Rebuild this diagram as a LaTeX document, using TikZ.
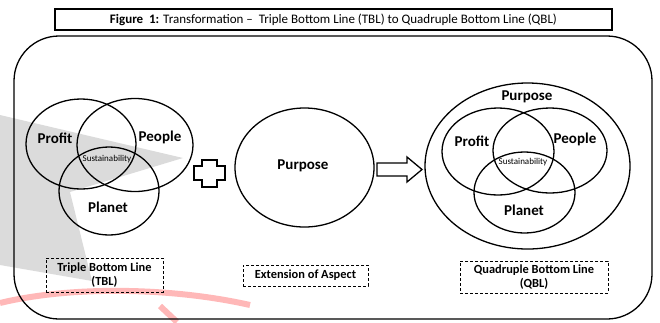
\documentclass[tikz,border=0pt]{standalone}
\usepackage{fontspec}
\setmainfont{Carlito}
\usetikzlibrary{shapes.geometric}

\tikzset{
  ring/.style={draw, ellipse, line width=1.3pt, inner sep=0pt},
  lbl/.style={font=\fontsize{15}{17}\selectfont\bfseries},
  core/.style={font=\fontsize{9}{10}\selectfont},
  tag/.style={draw, line width=0.9pt, dash pattern=on 3pt off 2pt, inner sep=0pt,
    align=center, font=\fontsize{12.4}{14}\selectfont\bfseries},
  mark line/.style={red!28, line width=6pt}
}

\begin{document}
\begin{tikzpicture}[x=1pt,y=-1pt]
\useasboundingbox (0,0) rectangle (660,322);
% ---- faint background marks ----
\fill[gray!28] (0,115) -- (183,158) -- (70,192) -- (92,281) -- (0,265) -- cycle;
\draw[mark line] (0,303) .. controls (70,286) and (170,287) .. (250,305);
\draw[mark line] (160,306) -- (177,322);
% ---- heading and frame ----
\node[draw, line width=1.2pt, minimum width=557pt, minimum height=21pt, inner sep=0pt,
  font=\fontsize{13}{15}\selectfont] (title) at (333.5,19.5)
  {\textbf{Figure\ \ 1:} Transformation –\ \ Triple Bottom Line (TBL) to Quadruple Bottom Line (QBL)};
\draw[line width=1.3pt, rounded corners=45pt] (14,36) rectangle (652,319);
% ---- TBL ----
\node[ring, minimum width=110pt, minimum height=90pt] (profitL) at (81,144) {};
\node[ring, minimum width=116pt, minimum height=93pt] (peopleL) at (135,145) {};
\node[ring, minimum width=100pt, minimum height=88pt] (planetL) at (109,191) {};
\node[lbl] (profitLt) at (55,138) {Profit};
\node[lbl] (peopleLt) at (160,137) {People};
\node[core] (sustL) at (107,159) {Sustainability};
\node[lbl] (planetLt) at (108,207) {Planet};
\node[tag, minimum width=117pt, minimum height=34pt] (tbl) at (104.5,275) {Triple Bottom Line\\(TBL)};
% plus sign
\draw[line width=1.3pt, fill=white] (202,160) -- (217,160) -- (217,166) -- (225,166) -- (225,180)
  -- (217,180) -- (217,187) -- (202,187) -- (202,180) -- (194,180) -- (194,166) -- (202,166) -- cycle;
% ---- extension ----
\node[ring, minimum width=139pt, minimum height=119pt] (purpM) at (304.5,167.5) {};
\node[lbl] (purpMt) at (303,166) {Purpose};
\node[tag, minimum width=125pt, minimum height=21pt] (ext) at (305.5,275.5) {Extension of Aspect};
% block arrow
\draw[line width=1.3pt, fill=white] (377,163) -- (407,163) -- (407,157) -- (422,169.5)
  -- (407,182) -- (407,176) -- (377,176) -- cycle;
% ---- QBL ----
\node[ring, minimum width=205pt, minimum height=166pt] (purpR) at (527.5,166) {};
\node[ring, minimum width=112pt, minimum height=87pt] (profitR) at (498,151.5) {};
\node[ring, minimum width=114pt, minimum height=85pt] (peopleR) at (550,150.5) {};
\node[ring, minimum width=101pt, minimum height=81pt] (planetR) at (524.5,192.5) {};
\node[lbl] (purpRt) at (527,97) {Purpose};
\node[lbl] (profitRt) at (472,141) {Profit};
\node[lbl] (peopleRt) at (575,139) {People};
\node[core] (sustR) at (523,162) {Sustainability};
\node[lbl] (planetRt) at (524,210) {Planet};
\node[tag, minimum width=148pt, minimum height=32pt] (qbl) at (534,277) {Quadruple Bottom Line\\(QBL)};
\end{tikzpicture}
\end{document}
